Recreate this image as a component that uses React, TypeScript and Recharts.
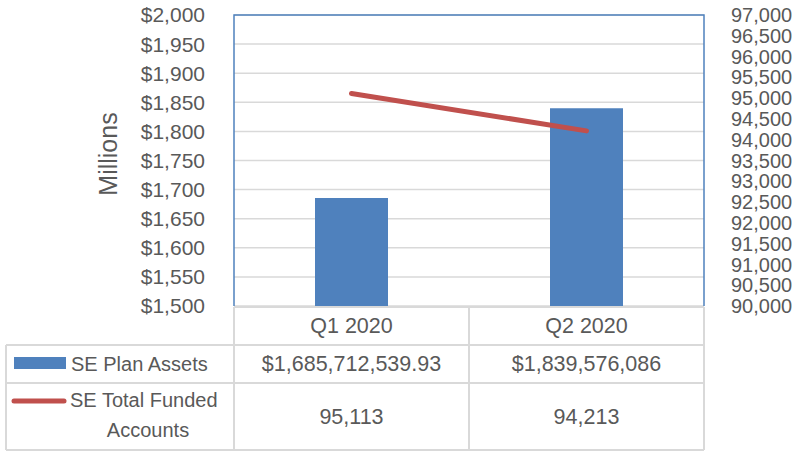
import React from 'react';
import { ComposedChart, Bar, Line, XAxis, YAxis, CartesianGrid } from 'recharts';

const categories = ['Q1 2020', 'Q2 2020'];
const planAssetsMillions = [1685.71253993, 1839.576086];
const planAssetsLabels = ['$1,685,712,539.93', '$1,839,576,086'];
const fundedAccounts = [95113, 94213];
const fundedLabels = ['95,113', '94,213'];
const leftTicks = [1500, 1550, 1600, 1650, 1700, 1750, 1800, 1850, 1900, 1950, 2000];
const rightTicks = [90000, 90500, 91000, 91500, 92000, 92500, 93000, 93500, 94000, 94500, 95000, 95500, 96000, 96500, 97000];
const seriesNames = ['SE Plan Assets', 'SE Total Funded', 'Accounts'];
const axisTitle = 'Millions';

const data = categories.map((c, i) => ({ name: c, assets: planAssetsMillions[i], accounts: fundedAccounts[i] }));

const FONT = '"Liberation Sans", Arial, sans-serif';
const TEXT = '#595959';
const BLUE = '#4f81bd';
const RED = '#c0504d';
const GRID = '#d9d9d9';

const TableTick = (props: any) => {
  const { x, y, payload } = props;
  const i = payload.index;
  const common = { textAnchor: 'middle' as const, dominantBaseline: 'central' as const, fill: TEXT, fontSize: 21.5, fontFamily: FONT };
  return (
    <g>
      <text x={x} y={y + 20} {...common}>{payload.value}</text>
      <text x={x} y={y + 58} {...common}>{planAssetsLabels[i]}</text>
      <text x={x} y={y + 111} {...common}>{fundedLabels[i]}</text>
    </g>
  );
};

export default function App() {
  return (
    <div style={{ position: 'absolute', left: 0, top: 0, width: 801, height: 451, background: '#fff' }}>
      <ComposedChart width={801} height={451} data={data} margin={{ top: 15, right: 0, bottom: 0, left: 134 }}>
        <CartesianGrid yAxisId="left" vertical={false} stroke={GRID} strokeWidth={1.5} />
        <XAxis dataKey="name" height={145} axisLine={false} tickLine={false} tickSize={0} tickMargin={0} tick={<TableTick />} interval={0} />
        <YAxis yAxisId="left" width={100} domain={[1500, 2000]} ticks={leftTicks} axisLine={false} tickLine={false} tickSize={0} tickMargin={29}
          tick={{ fill: TEXT, fontSize: 21, fontFamily: FONT }} tickFormatter={(v: number) => '$' + v.toLocaleString('en-US')} interval={0} />
        <YAxis yAxisId="right" orientation="right" width={97} domain={[90000, 97000]} ticks={rightTicks} axisLine={false} tickLine={false} tickSize={0} tickMargin={27}
          tick={{ fill: TEXT, fontSize: 20, fontFamily: FONT, textAnchor: 'start' }} tickFormatter={(v: number) => v.toLocaleString('en-US')} interval={0} />
        <Bar yAxisId="left" dataKey="assets" fill={BLUE} barSize={73} isAnimationActive={false} />
        <Line yAxisId="right" dataKey="accounts" stroke={RED} strokeWidth={5} strokeLinecap="round" dot={false} activeDot={false} isAnimationActive={false} />
      </ComposedChart>
      <svg width={801} height={451} style={{ position: 'absolute', left: 0, top: 0, pointerEvents: 'none' }}>
        <g stroke={GRID} strokeWidth={2} fill="none">
          <line x1={234} y1={307} x2={704} y2={307} />
          <line x1={6} y1={345} x2={704} y2={345} />
          <line x1={6} y1={383} x2={704} y2={383} />
          <line x1={6} y1={450} x2={704} y2={450} />
          <line x1={6} y1={345} x2={6} y2={450} />
          <line x1={234} y1={307} x2={234} y2={450} />
          <line x1={469} y1={307} x2={469} y2={450} />
          <line x1={704} y1={307} x2={704} y2={450} />
        </g>
        <polyline points="234,306 234,15 704,15 704,306" stroke={BLUE} strokeWidth={1.5} fill="none" />
        <text x={108} y={154} transform="rotate(-90 108 154)" textAnchor="middle" dominantBaseline="central" fill={TEXT} fontSize={25} fontFamily={FONT}>{axisTitle}</text>
        <rect x={14} y={357} width={52} height={12} fill={BLUE} />
        <text x={71} y={364} dominantBaseline="central" fill={TEXT} fontSize={20} fontFamily={FONT}>{seriesNames[0]}</text>
        <line x1={14} y1={401} x2={64} y2={401} stroke={RED} strokeWidth={5} strokeLinecap="round" />
        <text x={70} y={400} dominantBaseline="central" fill={TEXT} fontSize={20} fontFamily={FONT}>{seriesNames[1]}</text>
        <text x={148} y={430} textAnchor="middle" dominantBaseline="central" fill={TEXT} fontSize={20} fontFamily={FONT}>{seriesNames[2]}</text>
      </svg>
    </div>
  );
}
